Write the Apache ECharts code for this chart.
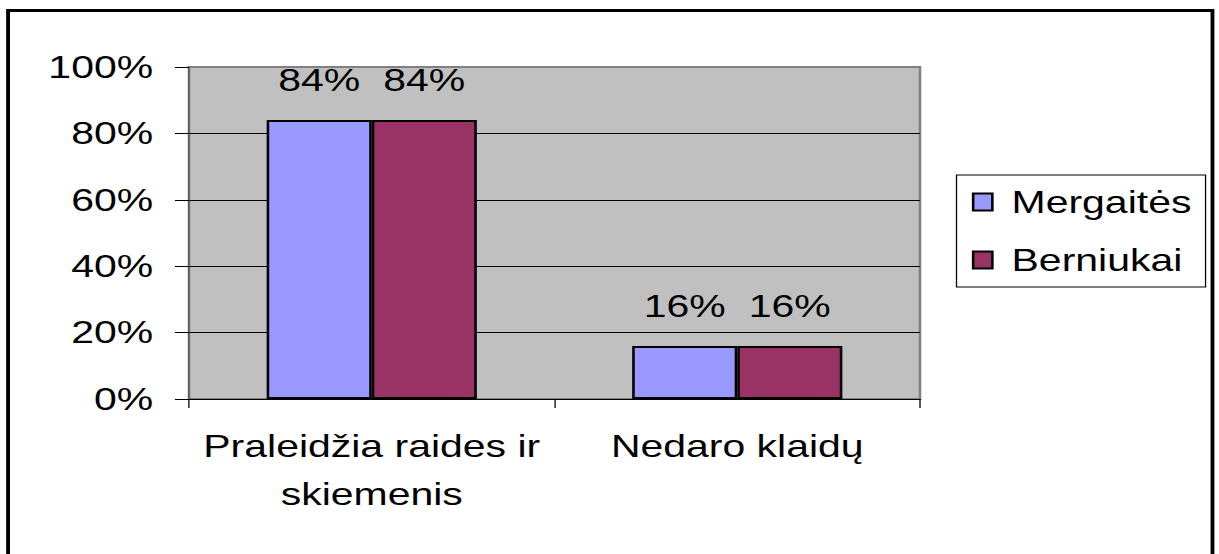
<!DOCTYPE html>
<html>
<head>
<meta charset="utf-8">
<script src="https://cdn.jsdelivr.net/npm/echarts@6/dist/echarts.min.js"></script>
<style>
html,body{margin:0;padding:0;background:#fff;overflow:hidden;}
#c{width:952px;height:554px;transform:scaleX(1.28046);transform-origin:0 0;}
</style>
</head>
<body>
<div id="c"></div>
<script>
const categories = ['Praleidžia raides ir\nskiemenis', 'Nedaro klaidų'];
const seriesNames = ['Mergaitės', 'Berniukai'];
const mergaites = [84, 16];
const berniukai = [84, 16];
const yTicks = [0, 20, 40, 60, 80, 100];

const FONT = "'Liberation Sans', Arial, sans-serif";
const chart = echarts.init(document.getElementById('c'), null, {renderer: 'svg'});
chart.setOption({
  animation: false,
  textStyle: {fontFamily: FONT},
  graphic: [{
    type: 'rect', silent: true, z: 100,
    shape: {x: 6.3, y: 10.5, width: 940.6, height: 560},
    style: {fill: 'none', stroke: '#000', lineWidth: 3}
  }],
  grid: {
    left: 147.6, top: 67, width: 570.9, height: 332,
    show: true, backgroundColor: '#C0C0C0', borderColor: '#808080', borderWidth: 2
  },
  legend: {
    data: seriesNames,
    orient: 'vertical',
    left: 747, top: 175,
    backgroundColor: '#fff',
    borderColor: '#000', borderWidth: 1,
    padding: [11, 11, 11, 12],
    itemWidth: 15, itemHeight: 17, itemGap: 26,
    icon: 'rect',
    textStyle: {fontSize: 32, color: '#000', fontFamily: FONT, padding: [0, 0, 0, 10]}
  },
  xAxis: {
    type: 'category',
    data: categories,
    axisLine: {show: true, lineStyle: {color: '#000', width: 1}},
    axisTick: {show: true, length: 9, lineStyle: {color: '#000'}},
    axisLabel: {fontSize: 32, color: '#000', lineHeight: 48, margin: 23, fontFamily: FONT, interval: 0}
  },
  yAxis: {
    type: 'value',
    min: 0, max: 100, interval: 20,
    axisLine: {show: true, lineStyle: {color: '#555', width: 1}},
    axisTick: {show: true, length: 11, lineStyle: {color: '#000'}},
    axisLabel: {fontSize: 32, color: '#000', margin: 28, formatter: '{value}%', fontFamily: FONT},
    splitLine: {show: true, showMaxLine: false, lineStyle: {color: '#000', width: 1}}
  },
  series: [
    {
      name: seriesNames[0], type: 'bar', data: mergaites,
      barGap: '0%', barCategoryGap: '42.5%',
      itemStyle: {color: '#9999FF', borderColor: '#000', borderWidth: 2},
      label: {show: true, position: 'top', distance: 24, formatter: '{c}%', fontSize: 32, color: '#000', fontFamily: FONT}
    },
    {
      name: seriesNames[1], type: 'bar', data: berniukai,
      barGap: '0%', barCategoryGap: '42.5%',
      itemStyle: {color: '#993366', borderColor: '#000', borderWidth: 2},
      label: {show: true, position: 'top', distance: 24, formatter: '{c}%', fontSize: 32, color: '#000', fontFamily: FONT}
    }
  ]
});
</script>
</body>
</html>
